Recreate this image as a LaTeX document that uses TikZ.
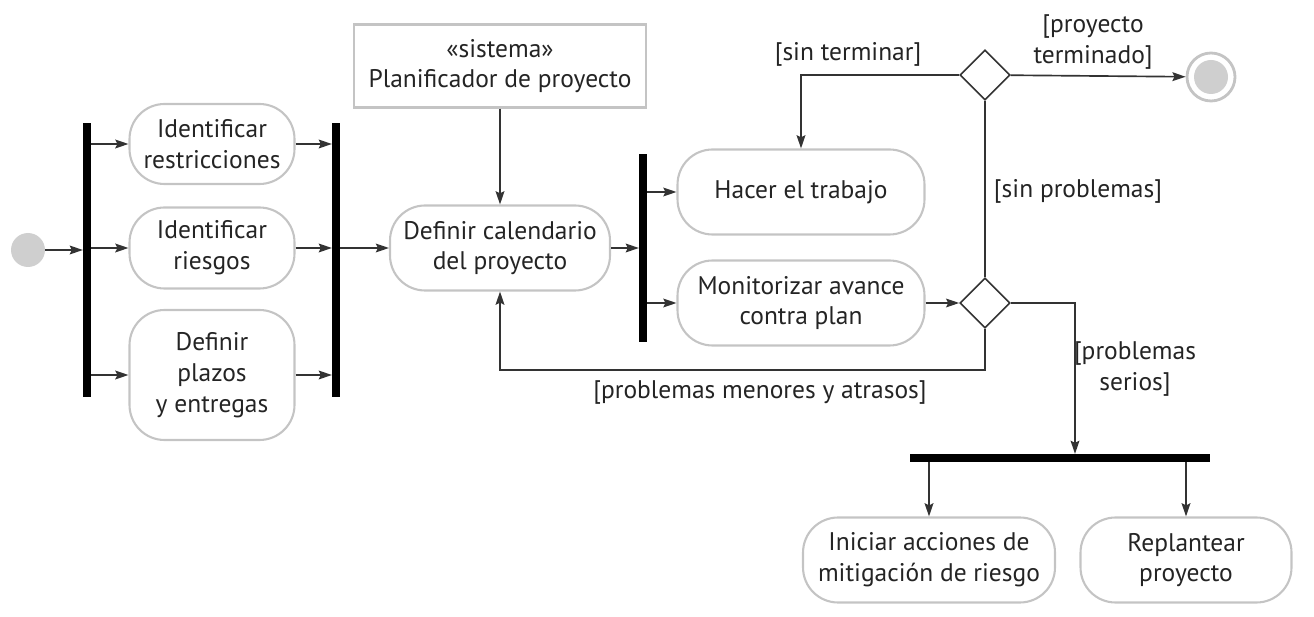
\documentclass[tikz,border=0pt]{standalone}
\usepackage{fontspec}
\setmainfont{PT Sans}
\usetikzlibrary{arrows.meta,shapes.geometric,positioning}
\definecolor{umlLine}{HTML}{333333}
\definecolor{umlBorder}{HTML}{C4C4C4}
\definecolor{umlGray}{HTML}{CFCFCF}
\definecolor{umlText}{HTML}{242424}

\begin{document}
\begin{tikzpicture}[x=0.02cm, y=-0.02cm, font=\fontsize{14.5}{17.5}\selectfont, text=umlText,
    act/.style={draw=umlBorder, line width=1.2pt, rounded corners=0.7cm, align=center, inner sep=2pt},
    sysbox/.style={draw=umlBorder, line width=1.2pt, align=center, inner sep=2pt},
    bar/.style={fill=black, inner sep=0pt, minimum width=0.15cm},
    decision/.style={diamond, draw=umlLine, line width=0.9pt, fill=white, inner sep=0pt, minimum size=1cm},
    flow/.style={draw=umlLine, line width=0.95pt, -{Stealth[length=7.5pt, width=5pt, inset=1.2pt]}},
    link/.style={draw=umlLine, line width=0.95pt},
    guard/.style={align=center, inner sep=1pt}]

    \useasboundingbox (0,0) rectangle (1314,617);

    % Initial node and first fork
    \node (start) [circle, fill=umlGray, minimum size=0.68cm, inner sep=0pt] at (28,250) {};
    \node (forkA) [bar, minimum height=5.5cm] at (87,260) {};

    % Parallel activities
    \node (restr) [act, minimum width=3.3cm, minimum height=1.6cm] at (212,144) {Identificar\\restricciones};
    \node (riesgos) [act, minimum width=3.3cm, minimum height=1.62cm] at (212,248) {Identificar\\riesgos};
    \node (plazos) [act, minimum width=3.3cm, minimum height=2.6cm] at (212,375) {Definir\\plazos\\y entregas};
    \node (joinA) [bar, minimum height=5.5cm] at (336,260) {};

    % Calendar definition
    \node (sistema) [sysbox, minimum width=5.84cm, minimum height=1.66cm] at (500,66) {«sistema»\\Planificador de proyecto};
    \node (calendario) [act, minimum width=4.4cm, minimum height=1.7cm] at (500,248) {Definir calendario\\del proyecto};
    \node (forkB) [bar, minimum height=3.78cm] at (643,248) {};

    % Work and monitoring
    \node (hacer) [act, minimum width=4.94cm, minimum height=1.7cm] at (801,192) {Hacer el trabajo};
    \node (monitor) [act, minimum width=4.94cm, minimum height=1.7cm] at (801,303) {Monitorizar avance\\contra plan};

    % Decisions and final node
    \node (decFin) [decision] at (985,75) {};
    \node (decPlan) [decision] at (985,303) {};
    \node (final) [circle, draw=umlBorder, line width=1.6pt, minimum size=0.96cm, inner sep=0pt] at (1211,77) {};
    \fill[umlGray] (final) circle (0.34cm);

    % Serious problems
    \node (forkC) [bar, minimum width=6cm, minimum height=0.15cm] at (1060,458) {};
    \node (iniciar) [act, minimum width=5.04cm, minimum height=1.7cm] at (929,560) {Iniciar acciones de\\mitigación de riesgo};
    \node (replan) [act, minimum width=4.22cm, minimum height=1.7cm] at (1186,560) {Replantear\\proyecto};

    % Guards
    \node (gSinTerm) [guard] at (848,54) {[sin terminar]};
    \node (gTerm) [guard] at (1093,42) {[proyecto\\terminado]};
    \node (gSinProb) [guard] at (1078,191) {[sin problemas]};
    \node (gMenores) [guard] at (760,393) {[problemas menores y atrasos]};
    \node (gSerios) [guard] at (1135,369) {[problemas\\serios]};

    % Connection lines
    \draw[flow] (start) -- (start -| forkA.west);
    \foreach \n in {restr, riesgos, plazos} {
        \draw[flow] (forkA.east |- \n) -- (\n);
        \draw[flow] (\n) -- (joinA.west |- \n);
    }
    \draw[flow] (joinA.east |- calendario) -- (calendario);
    \draw[flow] (sistema) -- (calendario);
    \draw[flow] (calendario) -- (forkB.west |- calendario);
    \draw[flow] (forkB.east |- hacer) -- (hacer);
    \draw[flow] (forkB.east |- monitor) -- (monitor);
    \draw[flow] (monitor) -- (decPlan);
    \draw[link] (decPlan) -- (decFin);
    \draw[flow] (decFin.west) -| (hacer);
    \draw[flow] (decFin) -- (final);
    \coordinate (loopBack) at (985,370);
    \draw[flow] (decPlan.south) -- (loopBack) -| (calendario);
    \draw[flow] (decPlan.east) -| ([xshift=0.3cm]forkC.north);
    \draw[flow] (forkC.south -| iniciar) -- (iniciar);
    \draw[flow] (forkC.south -| replan) -- (replan);

\end{tikzpicture}
\end{document}
